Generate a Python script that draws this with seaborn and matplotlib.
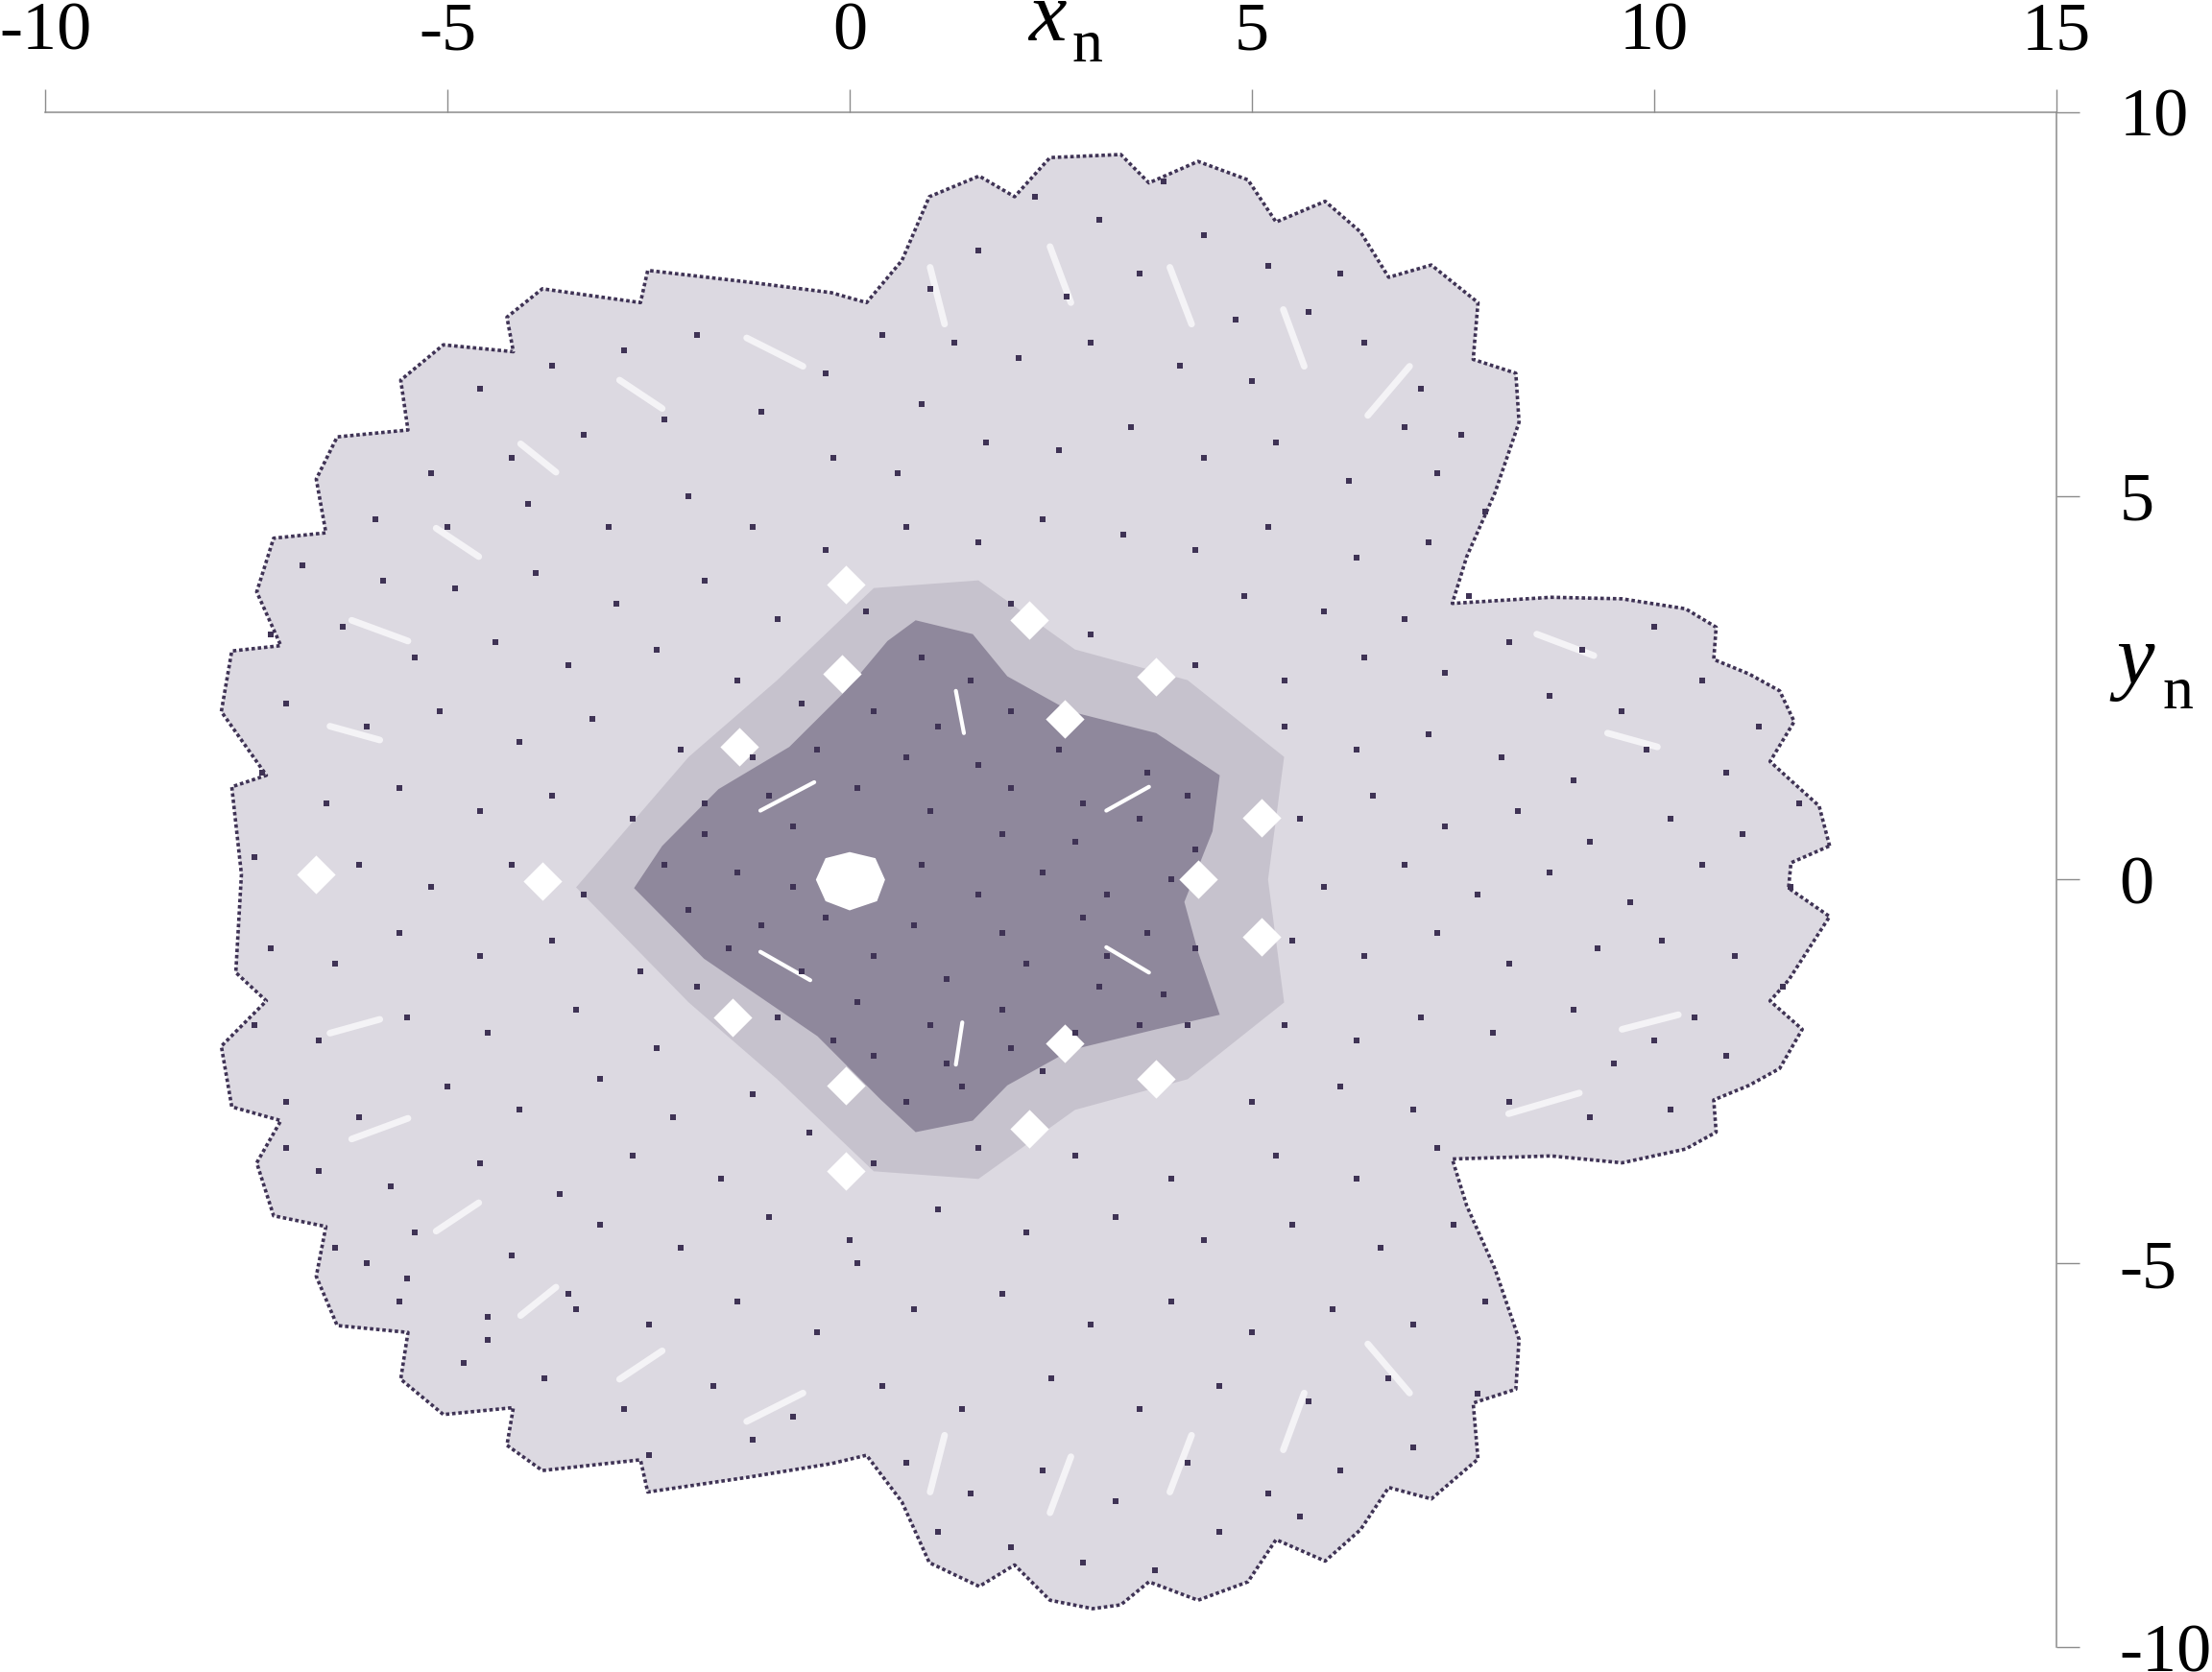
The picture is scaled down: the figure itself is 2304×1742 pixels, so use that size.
import matplotlib
matplotlib.use("Agg")
import matplotlib.pyplot as plt
import seaborn as sns

# Values estimated by eye from the reference. The tens of thousands of dots are too many to read
# individually: outline/tone regions stand for their density, hand-placed dots give grain.
tick_x = [-10, -5, 0, 5, 10, 15]
tick_y = [-10, -5, 0, 5, 10]
tick_x_labels = ["-10", "-5", "0", "5", "10", "15"]
tick_y_labels = ["-10", "-5", "0", "5", "10"]

outline_x = [12.18,12.05,11.67,11.44,11.74,11.56,11.18,10.74,10.77,10.39,9.60,8.72,7.49,7.67,8.02,8.32,8.28,7.75,7.81,7.23,6.70,6.35,5.91,5.30,4.95,4.33,3.72,3.37,2.49,2.05,1.61,0.99,0.65,0.21,-0.23,-1.28,-2.51,-2.60,-3.82,-4.26,-4.18,-5.05,-5.58,-5.49,-6.37,-6.63,-6.51,-7.16,-7.37,-7.07,-7.68,-7.81,-7.25,-7.68,-7.56,
             -7.63,-7.25,-7.81,-7.68,-7.07,-7.37,-7.16,-6.51,-6.63,-6.37,-5.49,-5.58,-5.05,-4.18,-4.26,-3.82,-2.60,-2.51,-1.28,-0.23,0.21,0.65,0.99,1.61,2.05,2.49,3.02,3.37,3.72,4.33,4.95,5.30,5.91,6.35,6.70,7.23,7.81,7.75,8.28,8.32,8.02,7.67,7.49,8.72,9.60,10.39,10.77,10.74,11.18,11.56,11.84,11.44,11.67,12.18,11.67,11.70]
outline_y = [0.44,0.96,1.32,1.54,2.06,2.46,2.68,2.87,3.29,3.53,3.66,3.68,3.60,4.21,5.04,5.96,6.60,6.78,7.52,8.01,7.85,8.44,8.84,8.57,9.12,9.36,9.08,9.45,9.41,8.90,9.17,8.90,8.07,7.52,7.65,7.79,7.94,7.52,7.70,7.33,6.88,6.97,6.51,5.86,5.77,5.22,4.52,4.45,3.75,3.05,2.98,2.19,1.36,1.21,0.07,
             -1.21,-1.58,-2.17,-2.96,-3.14,-3.69,-4.38,-4.52,-5.17,-5.81,-5.90,-6.51,-6.97,-6.88,-7.37,-7.70,-7.56,-7.98,-7.79,-7.61,-7.50,-8.11,-8.90,-9.21,-8.93,-9.39,-9.50,-9.45,-9.15,-9.39,-9.15,-8.60,-8.88,-8.47,-7.92,-8.07,-7.55,-6.82,-6.64,-5.99,-5.07,-4.25,-3.64,-3.60,-3.69,-3.51,-3.29,-2.87,-2.68,-2.46,-1.95,-1.58,-1.31,-0.48,-0.11,0.22]

halo_x = [-3.4,-2.0,-0.9,0.3,1.6,2.8,4.2,5.4,5.2,5.4,4.2,2.8,1.6,0.3,-0.9,-2.0]
halo_y = [-0.1,1.6,2.6,3.8,3.9,3.0,2.6,1.6,0.0,-1.6,-2.6,-3.0,-3.9,-3.8,-2.6,-1.6]

core_x = [-2.68,-2.33,-1.63,-0.75,-0.05,0.47,0.82,1.53,1.96,2.75,3.81,4.60,4.51,4.16,4.33,4.60,3.81,2.75,1.96,1.53,0.82,0.39,-0.40,-1.81]
core_y = [-0.11,0.44,1.18,1.73,2.46,3.11,3.38,3.20,2.65,2.19,1.91,1.36,0.63,-0.29,-0.94,-1.76,-1.95,-2.22,-2.68,-3.14,-3.29,-2.87,-2.04,-1.03]

hole_x = [-0.42,-0.30,0.0,0.32,0.44,0.34,0.0,-0.30]
hole_y = [0.0,0.28,0.36,0.28,0.0,-0.28,-0.40,-0.28]

island_x = [-0.05,2.23,3.81,5.12,5.12,3.81,2.23,-0.05,-3.82,-6.63,-1.46,-1.37,-0.09,-0.05,2.67,2.67,4.33]
island_y = [3.84,3.38,2.65,0.81,-0.75,-2.59,-3.24,-3.79,-0.02,0.07,-1.80,1.73,2.68,-2.68,2.10,-2.13,0.0]

slit_x0 = [1.32,-1.11,3.19,-1.11,3.19,1.32]
slit_y0 = [2.46,0.90,0.90,-0.94,-0.88,-2.41]
slit_x1 = [1.42,-0.44,3.72,-0.49,3.72,1.40]
slit_y1 = [1.91,1.27,1.21,-1.31,-1.21,-1.86]

streak_x0 = [2.49,3.98,5.39,6.44,1.00,-1.28,-2.86,-4.09,-5.14,-6.19,-6.46,2.49,3.98,5.39,6.44,1.00,-1.28,-2.86,-4.09,-5.14,-6.19,-6.46,9.42,8.54,9.60,8.19]
streak_y0 = [8.25,7.98,7.43,6.05,7.98,7.06,6.51,5.68,4.58,3.38,2.00,-8.25,-7.98,-7.43,-6.05,-7.98,-7.06,-6.51,-5.68,-4.58,-3.38,-2.00,1.91,3.20,-1.95,-3.05]
streak_x1 = [2.75,4.25,5.65,6.96,1.18,-0.58,-2.33,-3.65,-4.61,-5.49,-5.84,2.75,4.25,5.65,6.96,1.18,-0.58,-2.33,-3.65,-4.61,-5.49,-5.84,10.04,9.25,10.30,9.07]
streak_y1 = [7.52,7.24,6.69,6.69,7.24,6.69,6.14,5.31,4.21,3.11,1.82,-7.52,-7.24,-6.69,-6.69,-7.24,-6.69,-6.14,-5.31,-4.21,-3.11,-1.82,1.73,2.92,-1.76,-2.78]

outer_x = [2.3,3.1,3.9,4.4,1.6,5.2,6.1,1.0,2.7,3.6,4.8,5.7,
           0.4,1.3,2.1,3.0,4.1,5.0,6.4,7.1,-0.3,0.9,6.9,7.6,
           -4.6,-3.7,-2.8,-1.9,-1.1,-2.3,-3.3,-4.2,-5.2,-0.2,0.6,1.7,
           2.6,3.5,4.4,5.3,6.2,7.3,7.9,-5.9,-5.0,-4.0,-3.0,-2.0,
           -1.2,-0.3,0.7,1.6,2.4,3.4,4.3,5.2,6.3,7.2,-6.8,-5.8,
           -4.9,-3.9,-2.9,-1.8,-0.9,0.2,2.0,3.0,4.9,5.9,6.9,7.7,
           -7.2,-6.3,-5.4,-4.4,-3.5,-2.4,-1.4,-0.6,4.3,5.4,6.4,7.4,
           8.2,9.1,10.0,8.7,9.6,10.6,-7.0,-6.0,-5.1,-4.1,-3.2,-2.1,
           -1.2,5.4,6.3,7.2,8.1,9.0,9.9,10.9,11.3,-7.3,-6.5,-5.6,
           -4.6,-3.7,-2.7,-1.8,5.6,6.5,7.4,8.3,9.2,10.2,11.1,11.8,
           -7.4,-6.1,-5.2,-4.2,-3.3,5.9,6.9,7.8,8.7,9.7,10.6,11.7,
           -7.2,-6.4,-5.6,-4.6,-3.7,-2.6,-1.9,5.5,6.4,7.3,8.2,9.3,
           10.1,11.0,11.6,-7.4,-6.6,-5.5,-4.5,-3.4,-2.4,5.4,6.3,7.1,
           8.0,9.0,10.0,10.9,-7.0,-6.1,-5.0,-4.1,-3.1,-2.2,-1.2,5.0,
           6.1,7.0,8.2,9.2,10.2,-6.6,-5.7,-4.6,-3.6,-2.7,-1.6,-0.5,
           0.3,1.6,2.8,4.0,5.3,6.3,7.3,-6.4,-5.4,-4.2,-3.1,-2.1,
           -1.0,0.0,1.1,2.2,3.3,4.4,5.5,6.6,7.5,-5.6,-4.5,-3.5,
           -2.5,-1.4,-0.4,0.8,1.9,3.0,4.0,5.0,6.0,7.0,7.9,-4.8,
           -3.8,-2.8,-1.7,-0.7,0.4,1.4,2.5,3.6,4.6,5.7,6.7,7.8,
           0.7,1.5,2.4,3.3,4.2,5.2,6.1,7.0,-2.5,-1.2,1.1,2.9,
           3.8,4.6,2.0,5.6,0.1,-3.4,-4.5,-5.5,-6.0,9.5,10.5,-7.0]
outer_y = [8.9,8.6,9.1,8.4,8.2,8.0,7.9,7.7,7.6,7.9,7.3,7.4,
           7.1,7.0,6.8,7.0,6.7,6.5,7.0,6.4,6.6,6.2,5.9,5.8,
           6.4,6.7,6.9,7.1,6.1,6.0,5.8,5.5,5.3,5.5,5.3,5.7,
           5.6,5.9,5.5,5.7,5.2,5.3,4.8,4.7,4.6,4.9,4.6,5.0,
           4.6,4.3,4.6,4.4,4.7,4.5,4.3,4.6,4.2,4.4,4.1,3.9,
           3.8,4.0,3.6,3.9,3.4,3.5,3.6,3.2,3.7,3.5,3.4,3.7,
           3.2,3.3,2.9,3.1,2.8,3.0,2.6,2.3,2.8,2.6,2.9,2.7,
           3.1,3.0,3.3,2.4,2.2,2.6,2.3,2.0,2.2,1.8,2.1,1.7,
           1.6,2.0,1.7,1.9,1.6,1.3,1.7,1.4,2.0,1.4,1.0,1.2,
           0.9,1.1,0.8,1.0,0.8,1.1,0.7,0.9,0.5,0.8,0.6,1.0,
           0.3,0.2,-0.1,0.2,-0.2,-0.1,0.2,-0.2,0.1,-0.3,0.2,-0.1,
           -0.9,-1.1,-0.7,-1.0,-0.8,-1.2,-1.4,-0.8,-1.0,-0.7,-1.1,-0.9,
           -0.8,-1.0,-1.4,-1.9,-2.1,-1.8,-2.0,-1.7,-2.2,-1.9,-2.1,-1.8,
           -2.0,-1.7,-2.1,-2.3,-2.9,-3.1,-2.7,-3.0,-2.6,-3.1,-2.8,-2.9,
           -2.7,-3.0,-2.9,-3.1,-3.0,-3.8,-4.0,-3.7,-4.1,-3.6,-3.9,-3.3,
           -3.7,-3.5,-3.6,-3.9,-3.6,-3.9,-3.5,-4.8,-4.6,-4.9,-4.5,-4.8,
           -4.4,-4.7,-4.3,-4.6,-4.4,-4.7,-4.5,-4.8,-4.5,-5.5,-5.7,-5.4,
           -5.8,-5.5,-5.9,-5.6,-5.4,-5.8,-5.5,-5.9,-5.6,-5.8,-5.5,-6.3,
           -6.5,-6.9,-6.6,-7.0,-6.6,-6.9,-6.5,-6.9,-6.6,-6.8,-6.5,-6.7,
           -7.6,-8.0,-7.7,-8.1,-7.6,-8.0,-7.7,-7.4,-7.5,-7.3,-8.5,-8.9,
           -9.0,-8.5,-8.7,-8.3,-5.0,-5.6,-6.0,-5.2,-5.0,-2.4,-1.8,-3.5]

inner_x = [0.9,1.5,0.3,1.1,2.0,-0.4,0.7,1.6,2.6,-1.0,0.1,1.0,
           2.0,2.9,3.7,4.2,-1.8,-0.7,1.9,2.8,3.6,4.3,-2.3,-1.4,
           -0.7,0.9,1.6,2.4,3.2,4.0,-2.0,-1.1,-0.3,0.8,1.9,2.9,
           3.7,4.3,-1.5,-0.6,0.3,1.2,2.2,3.1,3.9,-0.9,0.1,1.0,
           1.9,2.8,3.6,0.3,1.2,2.0,0.7,1.4,2.4,4.2,3.2,-0.2]
inner_y = [2.9,2.6,2.2,2.0,2.2,1.7,1.6,1.5,1.7,1.1,1.2,0.9,
           1.2,1.0,1.4,1.1,0.6,0.7,0.6,0.5,0.8,0.4,0.2,0.1,
           -0.1,0.2,-0.2,0.1,-0.2,0.0,-0.4,-0.6,-0.5,-0.6,-0.7,-0.5,
           -0.7,-0.9,-0.9,-1.2,-1.0,-1.3,-1.1,-1.4,-1.5,-1.8,-1.6,-1.9,
           -1.7,-2.0,-1.9,-2.3,-2.4,-2.2,-2.9,-2.7,-2.5,-1.9,-1.0,-2.1]

DOT = "#3f3355"
GREY = "#8c8c8c"
FONT = "Liberation Serif"

sns.set_theme(style="white")
plt.rcParams["font.family"] = [FONT, "DejaVu Serif"]
W, H = 2304, 1742
fig = plt.figure(figsize=(W / 100, H / 100), dpi=100, facecolor="white")
ax = fig.add_axes([47 / W, 1 - 1716 / H, 2095 / W, 1599 / H])

# density tones
ax.fill(outline_x, outline_y, color="#dcd9e1", lw=0, zorder=1)
ax.fill(halo_x, halo_y, color="#c6c2cd", lw=0, zorder=2)
ax.fill(core_x, core_y, color="#8f889c", lw=0, zorder=3)

# white gaps
for x0, y0, x1, y1 in zip(streak_x0, streak_y0, streak_x1, streak_y1):
    ax.plot([x0, x1], [y0, y1], color="#f4f3f6", lw=5, solid_capstyle="round", zorder=4)
sns.scatterplot(x=island_x, y=island_y, ax=ax, s=420, marker="D", color="white", linewidth=0, zorder=4)
for x0, y0, x1, y1 in zip(slit_x0, slit_y0, slit_x1, slit_y1):
    ax.plot([x0, x1], [y0, y1], color="white", lw=3, solid_capstyle="round", zorder=5)
ax.fill(hole_x, hole_y, color="white", lw=0, zorder=5)

# dots and dense rim
sns.scatterplot(x=outer_x, y=outer_y, ax=ax, s=14, marker="s", color=DOT, linewidth=0, zorder=6)
sns.scatterplot(x=inner_x, y=inner_y, ax=ax, s=14, marker="s", color=DOT, linewidth=0, zorder=6)
ax.plot(outline_x + outline_x[:1], outline_y + outline_y[:1], color=DOT, lw=2.6,
        ls=(0, (1, 0.8)), zorder=7)

ax.set_xlim(-10, 15)
ax.set_ylim(-10, 10)
ax.set_xticks(tick_x)
ax.set_xticklabels(tick_x_labels)
ax.set_yticks(tick_y)
ax.set_yticklabels(tick_y_labels)
ax.patch.set_alpha(0)
for side in ("left", "bottom"):
    ax.spines[side].set_visible(False)
for side in ("top", "right"):
    ax.spines[side].set_visible(True)
    ax.spines[side].set_color(GREY)
    ax.spines[side].set_linewidth(1.1)
ax.tick_params(axis="x", which="both", top=True, bottom=False, labeltop=True, labelbottom=False,
               direction="out", length=17, width=1.0, color=GREY, pad=19, labelsize=52, labelcolor="black")
ax.tick_params(axis="y", which="both", right=True, left=False, labelright=True, labelleft=False,
               direction="out", length=17, width=1.0, color=GREY, pad=30, labelsize=52, labelcolor="black")
for t in ax.get_xticklabels() + ax.get_yticklabels():
    t.set_fontfamily(FONT)

# axis names: italic letter + upright subscript
fig.text(1071 / W, 1 - 42 / H, "x", family=FONT, style="italic", fontsize=64, color="black", ha="left", va="baseline")
fig.text(1116 / W, 1 - 64 / H, "n", family=FONT, fontsize=46, color="black", ha="left", va="baseline")
fig.text(2204 / W, 1 - 712 / H, "y", family=FONT, style="italic", fontsize=64, color="black", ha="left", va="baseline")
fig.text(2252 / W, 1 - 738 / H, "n", family=FONT, fontsize=46, color="black", ha="left", va="baseline")

fig.savefig("out.png", dpi=100, facecolor="white")
